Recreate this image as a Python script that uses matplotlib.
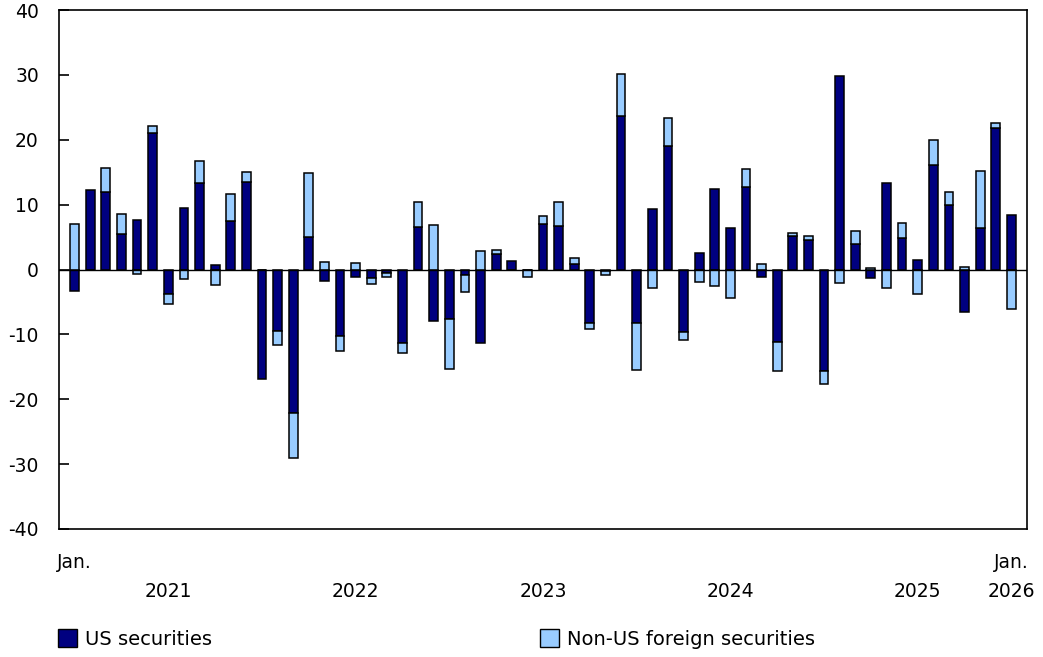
import matplotlib
matplotlib.use("Agg")
import matplotlib.pyplot as plt
import numpy as np
from matplotlib.patches import Patch

plt.rcParams['font.family'] = ['DejaVu Sans']
plt.rcParams['axes.unicode_minus'] = False

months = [f"{y}-{m:02d}" for y in range(2021, 2026) for m in range(1, 13)] + ["2026-01"]

us_securities = [
    -3.3, 12.2, 11.9, 5.4, 7.6, 21.0, -3.7, 9.5, 13.3, 0.7, 7.5, 13.5,
    -16.9, -9.5, -22.1, 5.0, -1.7, -10.2, -1.1, -1.3, -0.5, -11.4, 6.6, -7.9,
    -7.7, -0.8, -11.4, 2.4, 1.3, 0.0, 7.0, 6.7, 0.9, -8.3, -0.2, 23.7,
    -8.2, 9.3, 19.1, -9.6, 2.6, 12.4, 6.4, 12.7, -1.2, -11.1, 5.1, 4.5,
    -15.7, 29.9, 4.0, -1.3, 13.3, 4.8, 1.5, 16.1, 10.0, -6.5, 6.4, 21.8,
    8.4,
]
non_us_foreign = [
    7.0, 0.0, 3.8, 3.1, -0.7, 1.1, -1.6, -1.5, 3.5, -2.4, 4.2, 1.6,
    0.0, -2.2, -6.9, 9.9, 1.2, -2.3, 1.0, -0.9, -0.7, -1.5, 3.8, 6.9,
    -7.7, -2.7, 2.9, 0.6, 0.0, -1.2, 1.2, 3.7, 0.8, -0.8, -0.6, 6.4,
    -7.3, -2.9, 4.3, -1.3, -2.0, -2.5, -4.4, 2.8, 0.9, -4.5, 0.6, 0.6,
    -2.0, -2.1, 2.0, 0.3, -2.8, 2.4, -3.7, 3.9, 2.0, 0.4, 8.8, 0.8,
    -6.1,
]

series_names = ["US securities", "Non-US foreign securities"]
colors = ["#000080", "#99CCFF"]

top_labels = {0: "Jan.", 60: "Jan."}
year_labels = {6: "2021", 18: "2022", 30: "2023", 42: "2024", 54: "2025", 60: "2026"}

fig = plt.figure(figsize=(10.43, 6.57), dpi=100)
ax = fig.add_axes([59/1043, 1-529/657, (1027-59)/1043, (529-10)/657])

x = np.arange(len(months))
us = np.array(us_securities)
nu = np.array(non_us_foreign)
width = 0.56

ax.bar(x, us, width=width, color=colors[0], edgecolor="black", linewidth=1.1, zorder=3)
bottom_nu = np.where(np.sign(nu) == np.sign(us), us, 0.0)
ax.bar(x, nu, bottom=bottom_nu, width=width, color=colors[1], edgecolor="black", linewidth=1.1, zorder=3)

ax.axhline(0, color="black", linewidth=1.0, zorder=4)

ax.set_xlim(-1.0, len(months) + 0.0)
ax.set_ylim(-40, 40)
ax.set_yticks(np.arange(-40, 41, 10))
ax.tick_params(axis="y", direction="in", length=7, width=1.2, labelsize=13.5, pad=14.5)
ax.set_xticks([])
for s in ax.spines.values():
    s.set_linewidth(1.2)

fs = 13.5
for i, lab in top_labels.items():
    ax.text(i, -45.2, lab, ha="center", va="center", fontsize=fs)
for i, lab in year_labels.items():
    ax.text(i, -49.7, lab, ha="center", va="center", fontsize=fs)

handles = [Patch(facecolor=colors[0], edgecolor="black", linewidth=1.0),
           Patch(facecolor=colors[1], edgecolor="black", linewidth=1.0)]
lfs = 14
common = dict(loc="center left", frameon=False, fontsize=lfs, handlelength=1.0,
              handleheight=1.05, handletextpad=0.4, borderpad=0, borderaxespad=0)
fig.legend(handles[:1], series_names[:1], bbox_to_anchor=(58/1043, 1-639/657), **common)
fig.legend(handles[1:], series_names[1:], bbox_to_anchor=(540/1043, 1-639/657), **common)

fig.savefig("out.png", dpi=100)
